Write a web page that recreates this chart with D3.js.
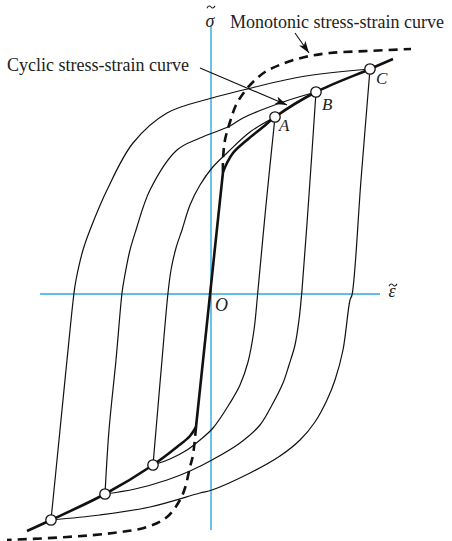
<!DOCTYPE html>
<html><head><meta charset="utf-8">
<script src="https://cdn.jsdelivr.net/npm/d3@7"></script>
<style>body{margin:0;background:#fff}svg{display:block}</style>
</head><body>
<script>
// Axis extents (normalised strain / stress units)
const strainExtent = [-1.71, 1.69];
const stressExtent = [-2.36, 2.69];

// Cyclic stress-strain curve: compressive plastic part, elastic line, tensile plastic part
const cyclicLower = [[-1.84,-2.37],[-1.60,-2.26],[-1.06,-2.00],[-0.58,-1.71],[-0.34,-1.53],[-0.21,-1.42],[-0.15,-1.33]];
const cyclicElastic = [[-0.15,-1.33],[0.12,1.22]];
const cyclicUpper = [[0.12,1.22],[0.16,1.31],[0.22,1.41],[0.36,1.54],[0.52,1.67],[0.64,1.77],[1.05,2.02],[1.59,2.25],[1.82,2.35]];

// Monotonic stress-strain curve (tension and compression branches)
const monotonicUpper = [[0.12,1.22],[0.12,1.34],[0.14,1.54],[0.19,1.72],[0.25,1.89],[0.34,2.03],[0.43,2.13],[0.54,2.22],[0.71,2.30],[0.94,2.37],[1.19,2.41],[1.56,2.43],[2.00,2.45]];
const monotonicLower = [[-0.15,-1.33],[-0.18,-1.61],[-0.21,-1.73],[-0.26,-1.94],[-0.31,-2.06],[-0.44,-2.23],[-0.64,-2.33],[-0.98,-2.39],[-1.44,-2.43],[-2.04,-2.46]];

// Hysteresis loops: unloading (down) and reloading (up) branches
const loopADown = [[0.64,1.77],[0.55,0.89],[0.47,0.04],[0.43,-0.36],[0.37,-0.68],[0.29,-0.91],[0.19,-1.09],[0.02,-1.34],[-0.11,-1.46],[-0.24,-1.56],[-0.41,-1.65],[-0.58,-1.71]];
const loopAUp = [[-0.58,-1.71],[-0.55,-1.36],[-0.49,-0.66],[-0.43,0.01],[-0.40,0.24],[-0.35,0.46],[-0.29,0.64],[-0.21,0.89],[-0.11,1.09],[0.01,1.26],[0.17,1.42],[0.39,1.62],[0.64,1.77]];
const loopBDown = [[1.05,2.02],[0.98,0.99],[0.91,0.04],[0.88,-0.26],[0.84,-0.51],[0.78,-0.71],[0.72,-0.89],[0.61,-1.11],[0.49,-1.31],[0.29,-1.49],[0.01,-1.66],[-0.21,-1.77],[-0.44,-1.86],[-0.76,-1.95],[-1.06,-2.00]];
const loopBUp = [[-1.06,-2.00],[-1.02,-1.36],[-0.95,-0.66],[-0.89,0.01],[-0.87,0.14],[-0.81,0.44],[-0.75,0.64],[-0.61,1.04],[-0.34,1.44],[-0.11,1.56],[0.19,1.68],[0.32,1.76],[0.72,1.92],[1.05,2.02]];
const loopCDown = [[1.59,2.25],[1.50,1.14],[1.41,-0.01],[1.39,-0.06],[1.32,-0.56],[1.24,-0.86],[1.16,-1.06],[1.04,-1.28],[0.89,-1.46],[0.69,-1.62],[0.39,-1.79],[0.01,-1.96],[-0.11,-1.99],[-0.61,-2.13],[-1.11,-2.21],[-1.60,-2.26]];
const loopCUp = [[-1.60,-2.26],[-1.51,-1.36],[-1.44,-0.66],[-1.37,0.01],[-1.35,0.14],[-1.28,0.44],[-1.21,0.64],[-1.04,1.04],[-0.78,1.51],[-0.44,1.81],[0.01,1.96],[0.32,2.04],[0.89,2.17],[1.59,2.25]];

// Loop tips
const tipNames = ["A","B","C"];
const tipStrain = [0.64, 1.05, 1.59];
const tipStress = [1.77, 2.02, 2.25];
const tipStrainNeg = [-0.58, -1.06, -1.60];
const tipStressNeg = [-1.71, -2.00, -2.26];

const W = 452, H = 541;
const x = d3.scaleLinear().domain(strainExtent).range([40, 380]);
const y = d3.scaleLinear().domain(stressExtent).range([530, 25]);

const svg = d3.select("body").append("svg").attr("width", W).attr("height", H);
const serif = "'Liberation Serif','Times New Roman',serif";

const defs = svg.append("defs");
defs.append("marker").attr("id","arrow").attr("viewBox","0 0 12 8")
  .attr("refX",12).attr("refY",4).attr("markerWidth",12).attr("markerHeight",8)
  .attr("markerUnits","userSpaceOnUse").attr("orient","auto")
  .append("path").attr("d","M0,0 L12,4 L0,8 L3,4 Z").attr("fill","#111");

// Axes
const axisColor = "#29a8e0";
svg.append("line").attr("x1", x(strainExtent[0])).attr("x2", x(strainExtent[1]))
  .attr("y1", y(0)).attr("y2", y(0)).attr("stroke", axisColor).attr("stroke-width", 1.6);
svg.append("line").attr("x1", x(0)).attr("x2", x(0))
  .attr("y1", y(stressExtent[0])).attr("y2", y(stressExtent[1])).attr("stroke", axisColor).attr("stroke-width", 1.4);

const smooth = d3.line().x(d => x(d[0])).y(d => y(d[1])).curve(d3.curveCatmullRom.alpha(0.5));
const straight = d3.line().x(d => x(d[0])).y(d => y(d[1]));

// Loops
[loopADown, loopAUp, loopBDown, loopBUp, loopCDown, loopCUp].forEach(pts => {
  svg.append("path").attr("d", smooth(pts)).attr("fill","none")
    .attr("stroke","#111").attr("stroke-width",1.2);
});

// Monotonic curve
[monotonicUpper, monotonicLower].forEach(pts => {
  svg.append("path").attr("d", smooth(pts)).attr("fill","none")
    .attr("stroke","#111").attr("stroke-width",2.6).attr("stroke-dasharray","9,6");
});

// Cyclic curve
svg.append("path").attr("d", smooth(cyclicLower)).attr("fill","none").attr("stroke","#111").attr("stroke-width",2.6);
svg.append("path").attr("d", straight(cyclicElastic)).attr("fill","none").attr("stroke","#111").attr("stroke-width",2.6);
svg.append("path").attr("d", smooth(cyclicUpper)).attr("fill","none").attr("stroke","#111").attr("stroke-width",2.6);

// Tip markers
const tips = tipNames.map((n,i) => ({n, e: tipStrain[i], s: tipStress[i]}))
  .concat(tipNames.map((n,i) => ({n: "", e: tipStrainNeg[i], s: tipStressNeg[i]})));
svg.selectAll("circle.tip").data(tips).enter().append("circle")
  .attr("cx", d => x(d.e)).attr("cy", d => y(d.s)).attr("r", 5.2)
  .attr("fill","#fff").attr("stroke","#111").attr("stroke-width",1.3);

const labelOffset = {A:[4,14], B:[6,18], C:[6,15]};
tips.filter(d => d.n).forEach(d => {
  svg.append("text").attr("x", x(d.e) + labelOffset[d.n][0]).attr("y", y(d.s) + labelOffset[d.n][1])
    .attr("font-family", serif).attr("font-style","italic").attr("font-size",17).attr("fill","#222").text(d.n);
});

// Axis labels: italic symbol with a small tilde stroke drawn above it
function tildeLabel(cx, baseline, symbol, tildeY) {
  svg.append("text").attr("x", cx).attr("y", baseline).attr("text-anchor","middle")
    .attr("font-family", serif).attr("font-style","italic").attr("font-size",18).attr("fill","#222").text(symbol);
  svg.append("path").attr("transform", `translate(${cx + 1},${tildeY})`)
    .attr("d","M-4,1.2 C-2.8,-1.6 -1.2,-1.4 0,0 C1.2,1.4 2.8,1.6 4,-1.2")
    .attr("fill","none").attr("stroke","#222").attr("stroke-width",1.1);
}
svg.append("text").attr("x", x(0) + 4).attr("y", y(0) + 17)
  .attr("font-family", serif).attr("font-style","italic").attr("font-size",18).attr("fill","#222").text("O");
tildeLabel(x(0) - 1, 27, "σ", 7);
tildeLabel(x(strainExtent[1]) + 12, y(0) + 3, "ε", y(0) - 9);

// Annotations
svg.append("text").attr("x", 7).attr("y", 71).attr("font-family", serif).attr("font-size",18)
  .attr("fill","#222").text("Cyclic stress-strain curve");
svg.append("line").attr("x1",200).attr("y1",68).attr("x2",287).attr("y2",105)
  .attr("stroke","#111").attr("stroke-width",1.1).attr("marker-end","url(#arrow)");
svg.append("text").attr("x", 230).attr("y", 28).attr("font-family", serif).attr("font-size",18)
  .attr("fill","#222").text("Monotonic stress-strain curve");
svg.append("line").attr("x1",295).attr("y1",33).attr("x2",309).attr("y2",53)
  .attr("stroke","#111").attr("stroke-width",1.1).attr("marker-end","url(#arrow)");
</script>
</body></html>
